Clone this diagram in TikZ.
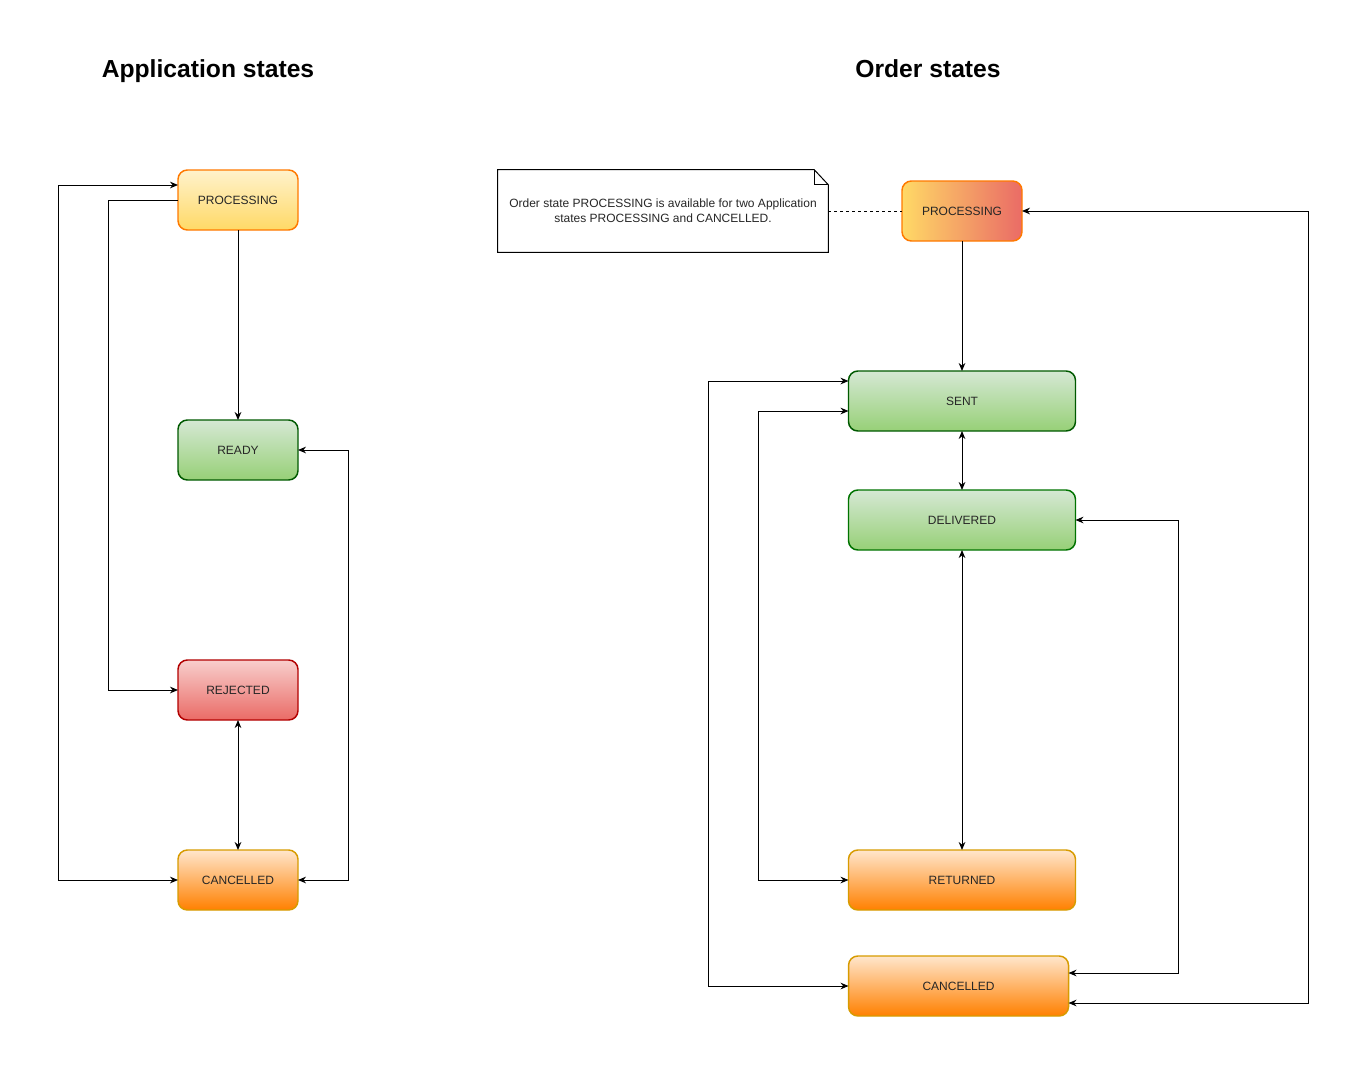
\documentclass[tikz,border=0pt]{standalone}
\usepackage{fontspec}
\setmainfont{Liberation Sans}
\usepackage{xcolor}
\usetikzlibrary{arrows.meta, positioning}

\definecolor{ylwtop}{HTML}{FFF2CC}
\definecolor{ylwbot}{HTML}{FFD966}
\definecolor{grntop}{HTML}{D5E8D4}
\definecolor{grnbot}{HTML}{97D077}
\definecolor{redtop}{HTML}{F8CECC}
\definecolor{redbot}{HTML}{EA6B66}
\definecolor{orgtop}{HTML}{FFE6CC}
\definecolor{orgbot}{HTML}{FF8000}
\definecolor{orgline}{HTML}{D79B00}

\begin{document}
\begin{tikzpicture}[
    x=0.75pt, y=-0.75pt,
    node distance=0.6cm,
    state/.style={rectangle, rounded corners=7pt, draw, line width=1.1pt, outer sep=0pt, minimum width=90pt, minimum height=45pt, align=center, font=\fontsize{9}{11}\selectfont, text=black!85},
    wide/.style={minimum width=170.25pt},
    yellowstate/.style={top color=ylwtop, bottom color=ylwbot, draw=orange!95!red},
    greenstate/.style={top color=grntop, bottom color=grnbot, draw=green!35!black},
    redstate/.style={top color=redtop, bottom color=redbot, draw=red!70!black},
    orangestate/.style={top color=orgtop, bottom color=orgbot, draw=orgline},
    title/.style={font=\fontsize{18.5}{22}\selectfont\bfseries, anchor=base},
    notebox/.style={minimum width=247.5pt, minimum height=61.5pt, align=center, font=\fontsize{9}{11}\selectfont, text=black!85},
    arrow/.style={-{Stealth[length=6pt,width=5pt]}, line width=0.75pt},
    both/.style={{Stealth[length=6pt,width=5pt]}-{Stealth[length=6pt,width=5pt]}, line width=0.75pt}
]
\useasboundingbox (0,0) rectangle (1368,1068);

\node[title] (titleA) at (208,77) {Application states};
\node[title] (titleO) at (928,77) {Order states};

% application states
\node[state, yellowstate] (procA) at (238,200) {PROCESSING};
\node[state, greenstate, below=142.5pt of procA] (readyA) {READY};
\node[state, redstate, below=135pt of readyA] (rejA) {REJECTED};
\node[state, orangestate, below=97.5pt of rejA] (canA) {CANCELLED};

\draw[arrow] (procA) -- (readyA);
\draw[both] (rejA) -- (canA);
\draw[both] (canA.west) -- ++(-120,0) |- ([yshift=11.25pt]procA.west);
\draw[arrow] (procA.west) -- ++(-70,0) |- (rejA.west);
\draw[both] (readyA.east) -- ++(50,0) |- (canA.east);

% order states
\node[state, left color=ylwbot, right color=redbot, draw=orange!95!red] (procO) at (962,211) {PROCESSING};
\node[state, wide, greenstate, below=97.5pt of procO] (sentO) {SENT};
\node[state, wide, greenstate, draw=green!45!black, below=44.25pt of sentO] (delO) {DELIVERED};
\node[state, wide, orangestate, below=225pt of delO] (retO) {RETURNED};
\node[state, orangestate, minimum width=165pt, below=34.5pt of retO, xshift=-2.6pt] (canO) {CANCELLED};

% note
\node[notebox] (note) at (663,211) {Order state PROCESSING is available for two Application\\states PROCESSING and CANCELLED.};
\draw[line width=0.75pt] (note.south west) -- (note.north west) -- ([xshift=-10.5pt]note.north east) -- ([yshift=-11.25pt]note.north east) -- (note.south east) -- cycle;
\draw[line width=0.5pt] ([xshift=-10.5pt]note.north east) -- ([xshift=-10.5pt,yshift=-11.25pt]note.north east) -- ([yshift=-11.25pt]note.north east);
\draw[line width=0.75pt, dash pattern=on 2.25pt off 2.25pt] (note.east) -- (procO.west);

\draw[arrow] (procO) -- (sentO);
\draw[both] (sentO) -- (delO);
\draw[both] (delO.south) -- (delO.south |- retO.north);
\draw[both] ([yshift=15pt]sentO.west) -- ++(-140,0) |- (canO.west);
\draw[both] ([yshift=-7.5pt]sentO.west) -- ++(-90,0) |- (retO.west);
\draw[both] (delO.east) -- ++(103,0) |- ([yshift=9.75pt]canO.east);
\draw[both] (procO.east) -- ++(286,0) |- ([yshift=-12.75pt]canO.east);
\end{tikzpicture}
\end{document}
